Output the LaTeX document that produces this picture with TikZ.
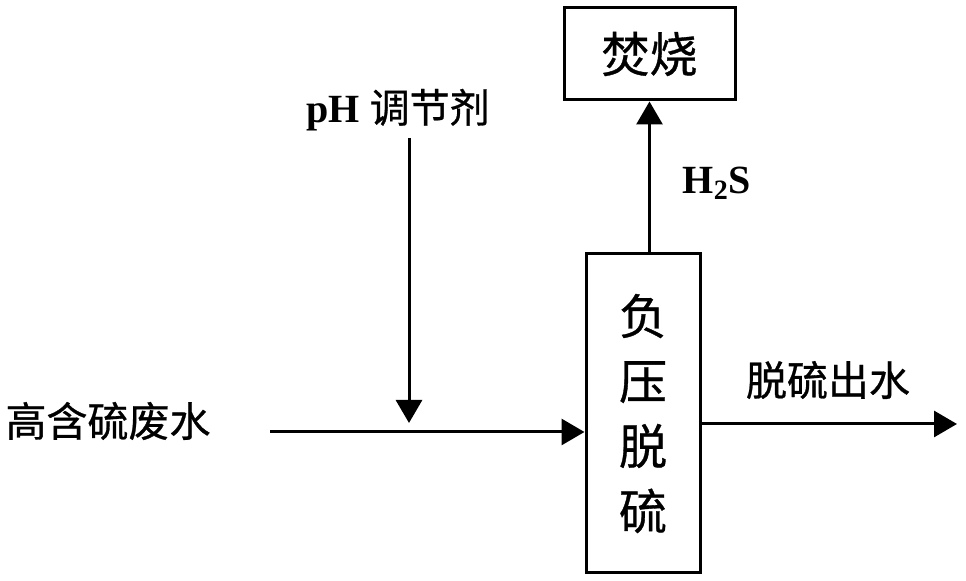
\documentclass[tikz,border=0pt]{standalone}
\usepackage{fontspec}
\setmainfont{Liberation Serif}
\newfontfamily\cjk{Noto Sans CJK SC}[FakeBold=0.7]
\usepackage{tikz}
\usetikzlibrary{arrows.meta,positioning}
\tikzset{>=latex}

\begin{document}
\begin{tikzpicture}[x=0.5pt, y=-0.5pt,
                >={Triangle[length=11.5pt,width=13pt]},
                every node/.append style={align=center, inner sep=0pt},
                flow/.style={->, line width=1.5pt},
                unit/.style={draw, line width=1.5pt},
                lbl/.style={font=\cjk\fontsize{20.5pt}{24pt}\selectfont},
                chem/.style={font=\bfseries\fontsize{20pt}{24pt}\selectfont}]
    \useasboundingbox (0,0) rectangle (966,581);

    \node [unit, minimum width=57pt, minimum height=159.5pt,
           font=\cjk\fontsize{24pt}{32.5pt}\selectfont] (tank) at (643,413.5)
          {负\\压\\脱\\硫};
    \node [unit, minimum width=85.5pt, minimum height=46pt,
           font=\cjk\fontsize{24pt}{28pt}\selectfont] (burn) at (649.5,54) {焚烧};

    \node [lbl] (feed) at (108,421) {高含硫废水};
    \node [chem] (ph) at (398,110) {pH {\mdseries\cjk 调节剂}};
    \node [chem] (gas) at (717,183) {H\textsubscript{2}S};
    \node [lbl] (outlbl) at (828,380) {脱硫出水};

    \coordinate (in) at (270,432);
    \coordinate (phtop) at (409,138);
    \coordinate (phend) at (409,423);
    \coordinate (out) at (957,424);

    \draw [flow] (in) -- (tank.west |- in);
    \draw [flow] (phtop) -- (phend);
    \draw [flow] (burn.south |- tank.north) -- (burn.south);
    \draw [flow] (tank.east |- out) -- (out);
\end{tikzpicture}
\end{document}
